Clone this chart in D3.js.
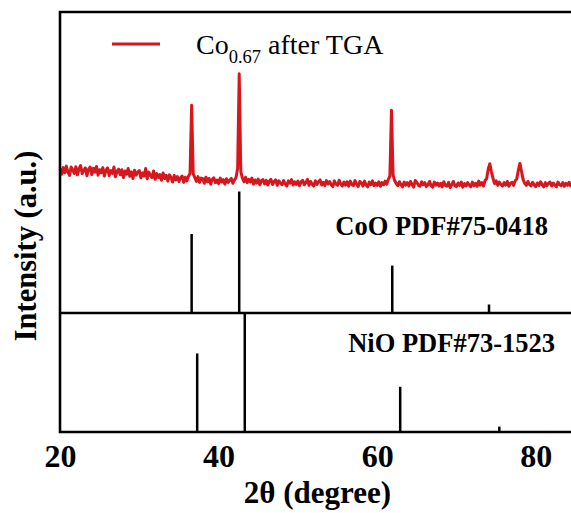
<!DOCTYPE html>
<html><head><meta charset="utf-8">
<script src="https://cdn.jsdelivr.net/npm/d3@7"></script>
<style>html,body{margin:0;padding:0;background:#fff;overflow:hidden}</style>
</head><body>
<svg id="chart" width="571" height="513"></svg>
<script>
// ---- data ----
const twoThetaStart = 20, twoThetaStep = 0.2;
// Co0.67 after TGA, intensity (a.u.) at 2θ = 20.0, 20.2, ... 85.0
const tgaIntensity = [
 480,461,483,466,488,468,457,485,476,464,
 486,459,479,490,463,474,482,456,477,485,
 460,481,468,487,458,476,466,483,455,474,
 482,457,473,464,485,453,471,478,459,476,
 450,472,461,480,454,469,447,474,458,468,
 473,449,465,455,480,446,468,457,450,472,
 444,463,450,460,441,465,447,457,438,459,
 450,435,457,442,453,437,449,455,434,451,
 439,454,465,690,462,450,437,453,434,448,
 446,431,451,436,447,428,444,449,433,442,
 430,448,435,443,428,446,434,441,447,431,
 442,450,480,795,470,448,436,451,433,444,
 435,448,428,442,432,445,426,440,443,429,
 441,425,438,444,427,437,442,424,439,431,
 426,440,429,422,439,431,443,425,436,427,
 438,423,435,441,426,433,444,424,437,428,
 422,439,427,436,442,425,434,423,440,429,
 437,426,420,439,428,424,441,429,422,435,
 425,436,421,438,427,423,440,428,420,437,
 433,422,438,425,419,435,426,439,423,432,
 424,436,421,433,426,438,428,444,455,674,
 458,440,430,423,436,426,419,435,425,433,
 422,437,427,418,440,434,424,421,436,426,
 433,420,426,437,423,418,435,425,432,422,
 431,419,436,424,421,434,417,426,437,423,
 420,432,424,435,418,430,422,433,425,419,
 435,423,431,421,438,425,433,422,440,446,
 478,496,470,448,430,439,424,435,427,422,
 433,425,437,421,431,434,424,439,445,475,
 497,470,444,431,424,437,427,422,434,425,
 420,432,424,436,426,419,433,423,431,435,
 422,432,425,419,435,426,423,433,421,431,
 424,434,422,432,425,430
];
// Reference patterns (relative intensity, %)
const cooPos = [36.6, 42.6, 61.9, 74.1];
const cooInt = [65, 100, 39, 7];
const nioPos = [37.3, 43.3, 62.9, 75.4];
const nioInt = [66, 100, 38, 4.5];
const xTicks = [20, 40, 60, 80];
const legendLabel = {main: "Co", sub: "0.67", rest: " after TGA"};
const cooLabel = "CoO PDF#75-0418";
const nioLabel = "NiO PDF#73-1523";
const xTitle = "2θ (degree)";
const yTitle = "Intensity (a.u.)";

// ---- layout ----
const svg = d3.select("#chart");
const L = 60, R = 60 + 65 * 7.93, T = 12, B = 432, MID = 313;
const red = "#d7161e";
const font = "'Liberation Serif','Times New Roman',serif";

const x = d3.scaleLinear().domain([20, 85]).range([L, R]);
const yTop = d3.scaleLinear().domain([0, 1000]).range([MID, MID - 301]);
const yCoO = d3.scaleLinear().domain([0, 100]).range([MID, MID - 121.5]);
const yNiO = d3.scaleLinear().domain([0, 100]).range([B, B - 119]);

const tga = tgaIntensity.map((v, i) => ({t: twoThetaStart + i * twoThetaStep, v}));

// red curve
svg.append("path").datum(tga)
  .attr("fill", "none").attr("stroke", red).attr("stroke-width", 3)
  .attr("stroke-linejoin", "round")
  .attr("d", d3.line().x(d => x(d.t)).y(d => yTop(d.v)));

// sticks
svg.append("g").selectAll("line").data(cooPos.map((p, i) => ({p, v: cooInt[i]})))
  .join("line")
  .attr("x1", d => x(d.p)).attr("x2", d => x(d.p))
  .attr("y1", yCoO(0)).attr("y2", d => yCoO(d.v))
  .attr("stroke", "#000").attr("stroke-width", 2.5);
svg.append("g").selectAll("line").data(nioPos.map((p, i) => ({p, v: nioInt[i]})))
  .join("line")
  .attr("x1", d => x(d.p)).attr("x2", d => x(d.p))
  .attr("y1", yNiO(0)).attr("y2", d => yNiO(d.v))
  .attr("stroke", "#000").attr("stroke-width", 2.5);

// frame
const frame = svg.append("g").attr("stroke", "#000").attr("stroke-width", 2.6).attr("fill", "none");
frame.append("path").attr("d", `M${L},${T}H${R}V${B}H${L}Z`);
frame.append("line").attr("x1", L).attr("x2", R).attr("y1", MID).attr("y2", MID);

// x axis labels
const ax = svg.append("g").attr("transform", `translate(0,${B})`)
  .call(d3.axisBottom(x).tickValues(xTicks).tickSize(0).tickPadding(0).tickFormat(d3.format("d")));
ax.select(".domain").remove();
ax.selectAll("text").attr("dy", null).attr("y", 35)
  .attr("font-family", font).attr("font-weight", "bold").attr("font-size", 32).attr("fill", "#000");

// axis titles
svg.append("text").attr("x", 317.5).attr("y", 503).attr("text-anchor", "middle")
  .attr("font-family", font).attr("font-weight", "bold").attr("font-size", 31).text(xTitle);
svg.append("text").attr("transform", "translate(36,246) rotate(-90)").attr("text-anchor", "middle")
  .attr("font-family", font).attr("font-weight", "bold").attr("font-size", 30.5).text(yTitle);

// legend
svg.append("line").attr("x1", 112).attr("x2", 160).attr("y1", 44).attr("y2", 44)
  .attr("stroke", red).attr("stroke-width", 3);
const lt = svg.append("text").attr("x", 196).attr("y", 54)
  .attr("font-family", font).attr("font-size", 28).attr("fill", "#000");
lt.append("tspan").text(legendLabel.main);
lt.append("tspan").attr("font-size", 18.5).attr("dy", 9).text(legendLabel.sub);
lt.append("tspan").attr("dy", -9).text(legendLabel.rest);

// pattern labels
svg.append("text").attr("x", 548).attr("y", 235).attr("text-anchor", "end")
  .attr("font-family", font).attr("font-weight", "bold").attr("font-size", 26.5).text(cooLabel);
svg.append("text").attr("x", 555).attr("y", 352).attr("text-anchor", "end")
  .attr("font-family", font).attr("font-weight", "bold").attr("font-size", 26.5).text(nioLabel);
</script>
</body></html>
